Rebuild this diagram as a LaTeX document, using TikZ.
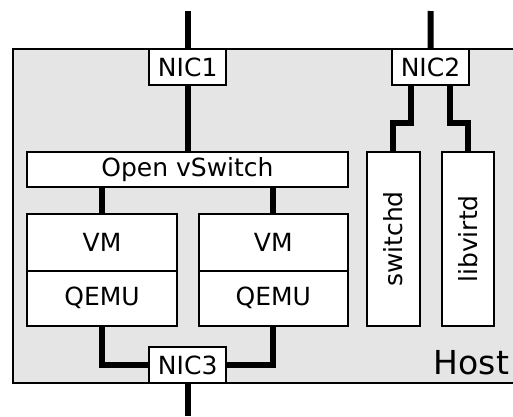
\documentclass[tikz,border=0pt]{standalone}
\usepackage{fontspec}
\setmainfont{DejaVu Sans}
\usepackage{tikz}

\begin{document}
\begin{tikzpicture}[x=1pt, y=-1pt, line width=1.8pt,
        box/.style={draw, fill=white, inner sep=0pt, font=\fontsize{25}{30}\selectfont},
        link/.style={line width=6pt}]
            \useasboundingbox (0,0) rectangle (513,416);
            \clip (0,0) rectangle (513,416);
            \draw[fill=gray!20] (12.7,49) rectangle (540,382.7);
            \node[anchor=base east, inner sep=0pt, font=\fontsize{33}{39}\selectfont] (hostlabel) at (510,374) {Host};
            \node[box, minimum width=77pt, minimum height=36pt] (nicA) at (187.7,67.2) {NIC1};
            \node[box, minimum width=77.6pt, minimum height=36pt] (nicB) at (430.5,67.2) {NIC2};
            \node[box, minimum width=77pt, minimum height=35.4pt] (nicC) at (187.7,365) {NIC3};
            \node[box, minimum width=320.4pt, minimum height=34.4pt] (ovs) at (187.5,169.5) {Open vSwitch};
            \node[box, minimum width=149.4pt, minimum height=56.4pt] (vmA) at (102,242.5) {VM};
            \node[box, minimum width=149.4pt, minimum height=55pt] (qemuA) at (102,298.2) {QEMU};
            \node[box, minimum width=148.7pt, minimum height=56.4pt] (vmB) at (273.3,242.5) {VM};
            \node[box, minimum width=148.7pt, minimum height=55pt] (qemuB) at (273.3,298.2) {QEMU};
            \node[box, minimum width=173.4pt, minimum height=53.3pt, rotate=90] (swd) at (393.3,239) {switchd};
            \node[box, minimum width=173.4pt, minimum height=52.6pt, rotate=90] (lvd) at (468,239) {libvirtd};
            \coordinate (upA) at (187.7,11);
            \coordinate (upB) at (430.7,11);
            \coordinate (down) at (187.7,416);
            % uplinks
            \draw[link] (upA) -- (nicA.north);
            \draw[link] (upB) -- (nicB.north);
            \draw[link] (nicA.south) -- (ovs.north -| nicA.south);
            \draw[link] (ovs.south -| vmA.north) -- (vmA.north);
            \draw[link] (ovs.south -| vmB.north) -- (vmB.north);
            % NIC2 to the daemons
            \draw[link] ([xshift=-19.5pt]nicB.south) -- ++(0,36.5) -| (swd.east);
            \draw[link] ([xshift=19.5pt]nicB.south) -- ++(0,36.5) -| (lvd.east);
            % QEMU to NIC3
            \draw[link] (qemuA.south) |- (nicC.west);
            \draw[link] (qemuB.south) |- (nicC.east);
            \draw[link] (nicC.south) -- (down);
        \end{tikzpicture}
\end{document}
